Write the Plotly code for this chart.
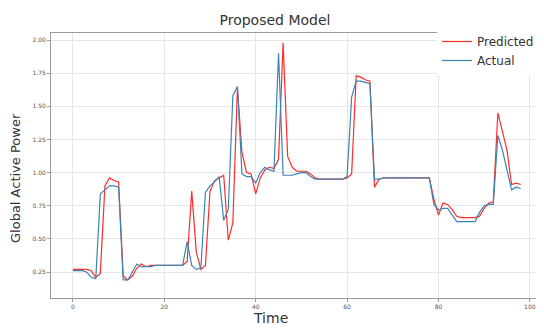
import plotly.graph_objects as go

time_idx = list(range(99))

actual = [
    0.26, 0.26, 0.26, 0.25, 0.21, 0.20, 0.84, 0.87, 0.90, 0.90,
    0.89, 0.19, 0.19, 0.25, 0.31, 0.29, 0.29, 0.29, 0.30, 0.30,
    0.30, 0.30, 0.30, 0.30, 0.30, 0.48, 0.30, 0.27, 0.28, 0.85,
    0.90, 0.93, 0.97, 0.64, 0.72, 1.58, 1.65, 0.99, 0.97, 0.97,
    0.92, 1.00, 1.04, 1.02, 1.01, 1.90, 0.98, 0.98, 0.98, 0.99,
    1.00, 1.00, 0.97, 0.95, 0.95, 0.95, 0.95, 0.95, 0.95, 0.95,
    0.97, 1.57, 1.69, 1.69, 1.68, 1.67, 0.95, 0.95, 0.96, 0.96,
    0.96, 0.96, 0.96, 0.96, 0.96, 0.96, 0.96, 0.96, 0.96, 0.76,
    0.72, 0.73, 0.73, 0.68, 0.63, 0.63, 0.63, 0.63, 0.63, 0.70,
    0.75, 0.76, 0.76, 1.28, 1.17, 1.02, 0.87, 0.89, 0.88,
]

predicted = [
    0.27, 0.27, 0.27, 0.27, 0.26, 0.21, 0.24, 0.90, 0.96, 0.94,
    0.93, 0.22, 0.19, 0.22, 0.28, 0.31, 0.29, 0.30, 0.30, 0.30,
    0.30, 0.30, 0.30, 0.30, 0.30, 0.33, 0.86, 0.40, 0.27, 0.30,
    0.86, 0.94, 0.96, 0.98, 0.49, 0.62, 1.64, 1.15, 1.00, 0.99,
    0.84, 0.96, 1.02, 1.04, 1.03, 1.10, 1.98, 1.12, 1.04, 1.01,
    1.01, 1.01, 0.99, 0.96, 0.95, 0.95, 0.95, 0.95, 0.95, 0.95,
    0.96, 0.99, 1.73, 1.72, 1.70, 1.69, 0.89, 0.95, 0.96, 0.96,
    0.96, 0.96, 0.96, 0.96, 0.96, 0.96, 0.96, 0.96, 0.96, 0.80,
    0.68, 0.77, 0.76, 0.72, 0.67, 0.66, 0.66, 0.66, 0.66, 0.67,
    0.73, 0.77, 0.78, 1.45, 1.30, 1.17, 0.91, 0.92, 0.91,
]

x_ticks = [0, 20, 40, 60, 80, 100]
y_ticks = [0.25, 0.50, 0.75, 1.00, 1.25, 1.50, 1.75, 2.00]

# The page adds an 8px body margin, so the figure is sized to the visible area.
W, H = 536, 320
L, T, B = 43, 25, 30
PW, PH = W - L, H - T - B

fig = go.Figure()
fig.add_trace(go.Scatter(x=time_idx, y=predicted, mode="lines", name="Predicted",
                         line=dict(color="#ff2b2b", width=1.2)))
fig.add_trace(go.Scatter(x=time_idx, y=actual, mode="lines", name="Actual",
                         line=dict(color="#3b84b4", width=1.2)))

fig.update_layout(
    width=W, height=H,
    margin=dict(l=L, r=0, t=T, b=B),
    paper_bgcolor="white", plot_bgcolor="white",
    font=dict(family="DejaVu Sans", color="#333333"),
    title=dict(text="Proposed Model", x=267 / W, xanchor="center",
               y=1 - 12 / H, yanchor="middle",
               font=dict(size=14, color="#333333")),
    showlegend=True,
    legend=dict(x=(429 - L) / PW, xanchor="left", y=1 + 6 / PH, yanchor="top",
                bgcolor="white", font=dict(size=12, color="#333333"),
                tracegroupgap=0, itemwidth=30),
    annotations=[
        dict(text="Time", xref="paper", yref="paper", x=(262 - L) / PW,
             y=-(310 - (T + PH)) / PH, xanchor="center", yanchor="middle",
             showarrow=False, font=dict(size=14, color="#333333")),
        dict(text="Global Active Power", xref="paper", yref="paper",
             x=-(L - 7) / PW, y=(T + PH - 170) / PH, xanchor="center",
             yanchor="middle", textangle=-90, showarrow=False,
             font=dict(size=13, color="#333333")),
    ],
)
fig.update_xaxes(
    range=[-4.8, 103.1], tickvals=x_ticks, ticktext=[str(v) for v in x_ticks],
    tickfont=dict(size=6, color="#555555"), showgrid=True, gridcolor="#e6e6e6",
    zeroline=False, showline=True, linecolor="#999999", linewidth=1, mirror=True,
    ticks="outside", ticklen=3, tickcolor="#999999",
)
fig.update_yaxes(
    range=[0.054, 2.053], tickvals=y_ticks, ticktext=["%.2f" % v for v in y_ticks],
    tickfont=dict(size=6, color="#555555"), showgrid=True, gridcolor="#e6e6e6",
    zeroline=False, showline=True, linecolor="#999999", linewidth=1, mirror=False,
    ticks="outside", ticklen=3, tickcolor="#999999",
)

fig.write_html("out.html")
